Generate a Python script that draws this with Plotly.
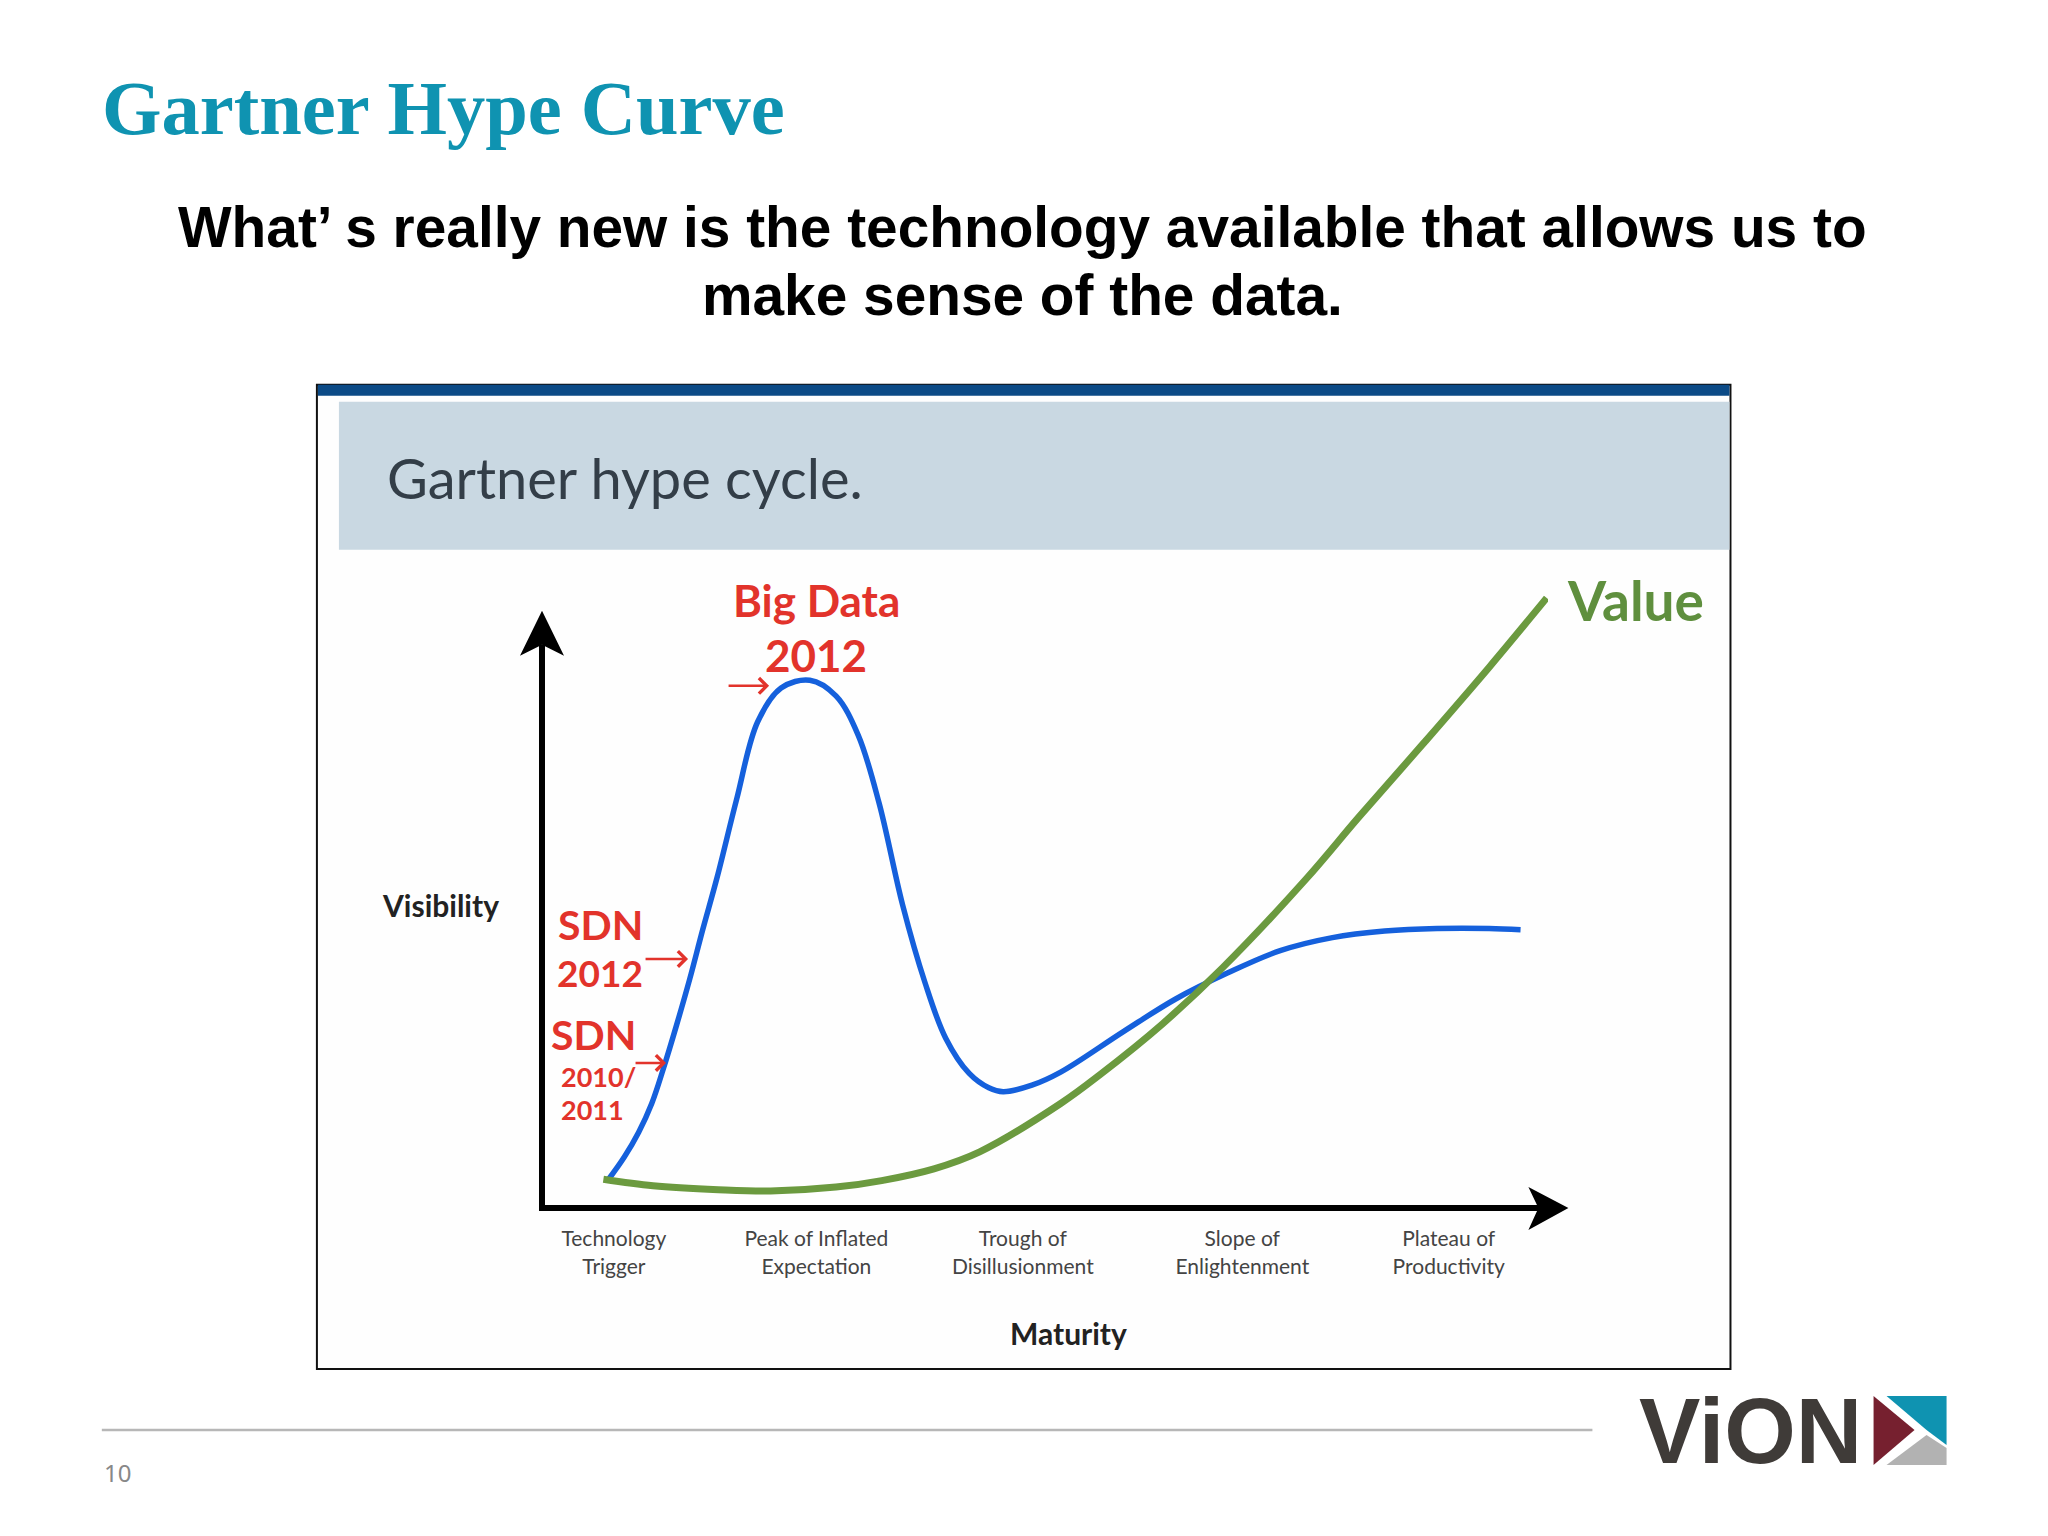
import plotly.graph_objects as go

# curve values
blue_x = [51, 63, 74, 84, 93, 103, 113, 123, 134, 149, 165, 183, 205, 225, 242, 258, 276,
          293, 309, 327, 342, 353, 375, 397, 445, 485, 525, 565, 605, 645, 685, 725, 749]
blue_y = [22, 39, 58, 80, 107, 140, 175, 213, 253, 313, 372, 398, 404, 392, 362, 310, 232,
          173, 130, 103, 92, 89, 94, 104, 135, 160, 180, 197, 207, 212, 214, 214, 213]
green_x = [47, 85, 135, 175, 225, 260, 300, 335, 397, 427, 475, 521, 585, 625, 675, 725, 769]
green_y = [22, 17, 14, 13, 16, 21, 30, 43, 80, 102, 141, 184, 252, 299, 356, 414, 467]
stage_pos = [55, 210, 368, 536, 694]
stage_labels = ["Technology<br>Trigger", "Peak of Inflated<br>Expectation",
                "Trough of<br>Disillusionment", "Slope of<br>Enlightenment",
                "Plateau of<br>Productivity"]

W, H = 2048, 1536
L, T, R, B = 545, 594.2, 1547.6, 1205
RED = "#e2332b"
TEAL = "#0f93b1"


def px(x):
    return (x - L) / (R - L)


def py(y):
    return (B - y) / (B - T)


def rect(x0, y0, x1, y1, fill, line=None, width=0):
    return dict(type="rect", xref="paper", yref="paper", layer="below",
                x0=px(x0), y0=py(y0), x1=px(x1), y1=py(y1), fillcolor=fill,
                line=dict(color=line, width=width) if line else dict(width=0))


def poly(points, fill):
    path = "M " + " L ".join(f"{px(a):.5f} {py(b):.5f}" for a, b in points) + " Z"
    return dict(type="path", xref="paper", yref="paper", path=path,
                fillcolor=fill, line=dict(width=0))


def note(text, x, y, size, color, family="Lato", xanchor="center"):
    return dict(text=text, x=px(x), y=py(y), xref="paper", yref="paper", xanchor=xanchor,
                yanchor="middle", showarrow=False,
                font=dict(size=size, color=color, family=family))


def red_arrow(x0, x1, y):
    return dict(text="", x=px(x1), y=py(y), xref="paper", yref="paper",
                ax=x0 - x1, ay=0, axref="pixel", ayref="pixel",
                showarrow=True, arrowhead=4, arrowsize=1.2, arrowwidth=2.5, arrowcolor=RED)


fig = go.Figure()
fig.add_trace(go.Scatter(x=blue_x, y=blue_y, mode="lines", cliponaxis=False,
                         line=dict(color="#1560dc", width=5.5, shape="spline", smoothing=1)))
fig.add_trace(go.Scatter(x=green_x, y=green_y, mode="lines", cliponaxis=False,
                         line=dict(color="#6b9a3f", width=7, shape="spline", smoothing=1)))

shapes = [
    rect(317, 385, 1730, 1369, "#fefefe", "#111111", 2),
    rect(318, 385, 1729, 396, "#0b4a86"),
    rect(339, 402, 1729, 550, "#c9d8e2"),
    # y axis stops under its arrowhead, the plot area runs higher for the green curve
    dict(type="line", xref="paper", yref="paper", x0=px(542), x1=px(542), y0=py(1211), y1=py(645),
         line=dict(color="black", width=6)),
    poly([(542, 611), (564, 656), (542, 645), (520, 656)], "black"),
    poly([(1568, 1208), (1528, 1230), (1538, 1208), (1528, 1187)], "black"),
    dict(type="line", xref="paper", yref="paper", x0=px(102), x1=px(1592), y0=py(1430), y1=py(1430),
         line=dict(color="#b7b7b7", width=2.5)),
    # logo emblem
    poly([(1873, 1396), (1914, 1430), (1873, 1465)], "#76202f"),
    poly([(1886, 1396), (1946, 1396), (1946, 1445), (1926, 1430)], "#0f93b1"),
    poly([(1886, 1465), (1926, 1435), (1946, 1448), (1946, 1465)], "#b2b2b2"),
]

annotations = [
    note("<b>Gartner Hype Curve</b>", 100, 109, 76.5, TEAL, "Liberation Serif", "left"),
    note("<b>What’ s really new is the technology available that allows us to</b>", 1022, 228, 56.8,
         "black", "Liberation Sans"),
    note("<b>make sense of the data.</b>", 1022, 296, 56.8, "black", "Liberation Sans"),
    note("Gartner hype cycle.", 385, 478, 56, "#333e48", "Lato", "left"),
    note("<b>Big Data</b>", 816, 600, 44, RED),
    note("<b>2012</b>", 816, 655, 44, RED),
    note("<b>Value</b>", 1565, 600, 55, "#5f8f3e", "Lato", "left"),
    note("<b>Visibility</b>", 441, 905, 30, "#222222"),
    note("<b>Maturity</b>", 1068, 1333, 30, "#222222"),
    note("<b>SDN</b>", 600, 925, 41, RED),
    note("<b>2012</b>", 600, 973, 37, RED),
    note("<b>SDN</b>", 593, 1035, 41, RED),
    note("<b>2010/</b>", 598, 1077, 27, RED),
    note("<b>2011</b>", 592, 1110, 27, RED),
    red_arrow(727, 769, 686),
    red_arrow(644, 688, 959),
    red_arrow(634, 666, 1063),
    note("10", 102, 1472, 24, "#888888", "Noto Sans", "left"),
    note("<b>ViON</b>", 1637, 1431, 92, "#3f3b38", "Liberation Sans", "left"),
]

fig.update_layout(
    width=W, height=H, showlegend=False,
    margin=dict(l=L, r=W - R, t=T, b=H - B, pad=0),
    paper_bgcolor="white", plot_bgcolor="rgba(0,0,0,0)",
    shapes=shapes, annotations=annotations,
    xaxis=dict(range=[2.3, 770], showgrid=False, zeroline=False, showline=True,
               linecolor="black", linewidth=6, tickmode="array", tickvals=stage_pos,
               ticktext=stage_labels, ticks="", ticklabelstandoff=10,
               tickfont=dict(family="Lato", size=21, color="#444444")),
    yaxis=dict(range=[2.3, 470], showgrid=False, zeroline=False, showline=False,
               showticklabels=False, ticks=""),
)

fig.write_html("out.html", config=dict(displayModeBar=False),
               post_script="document.body.style.margin='0';")
